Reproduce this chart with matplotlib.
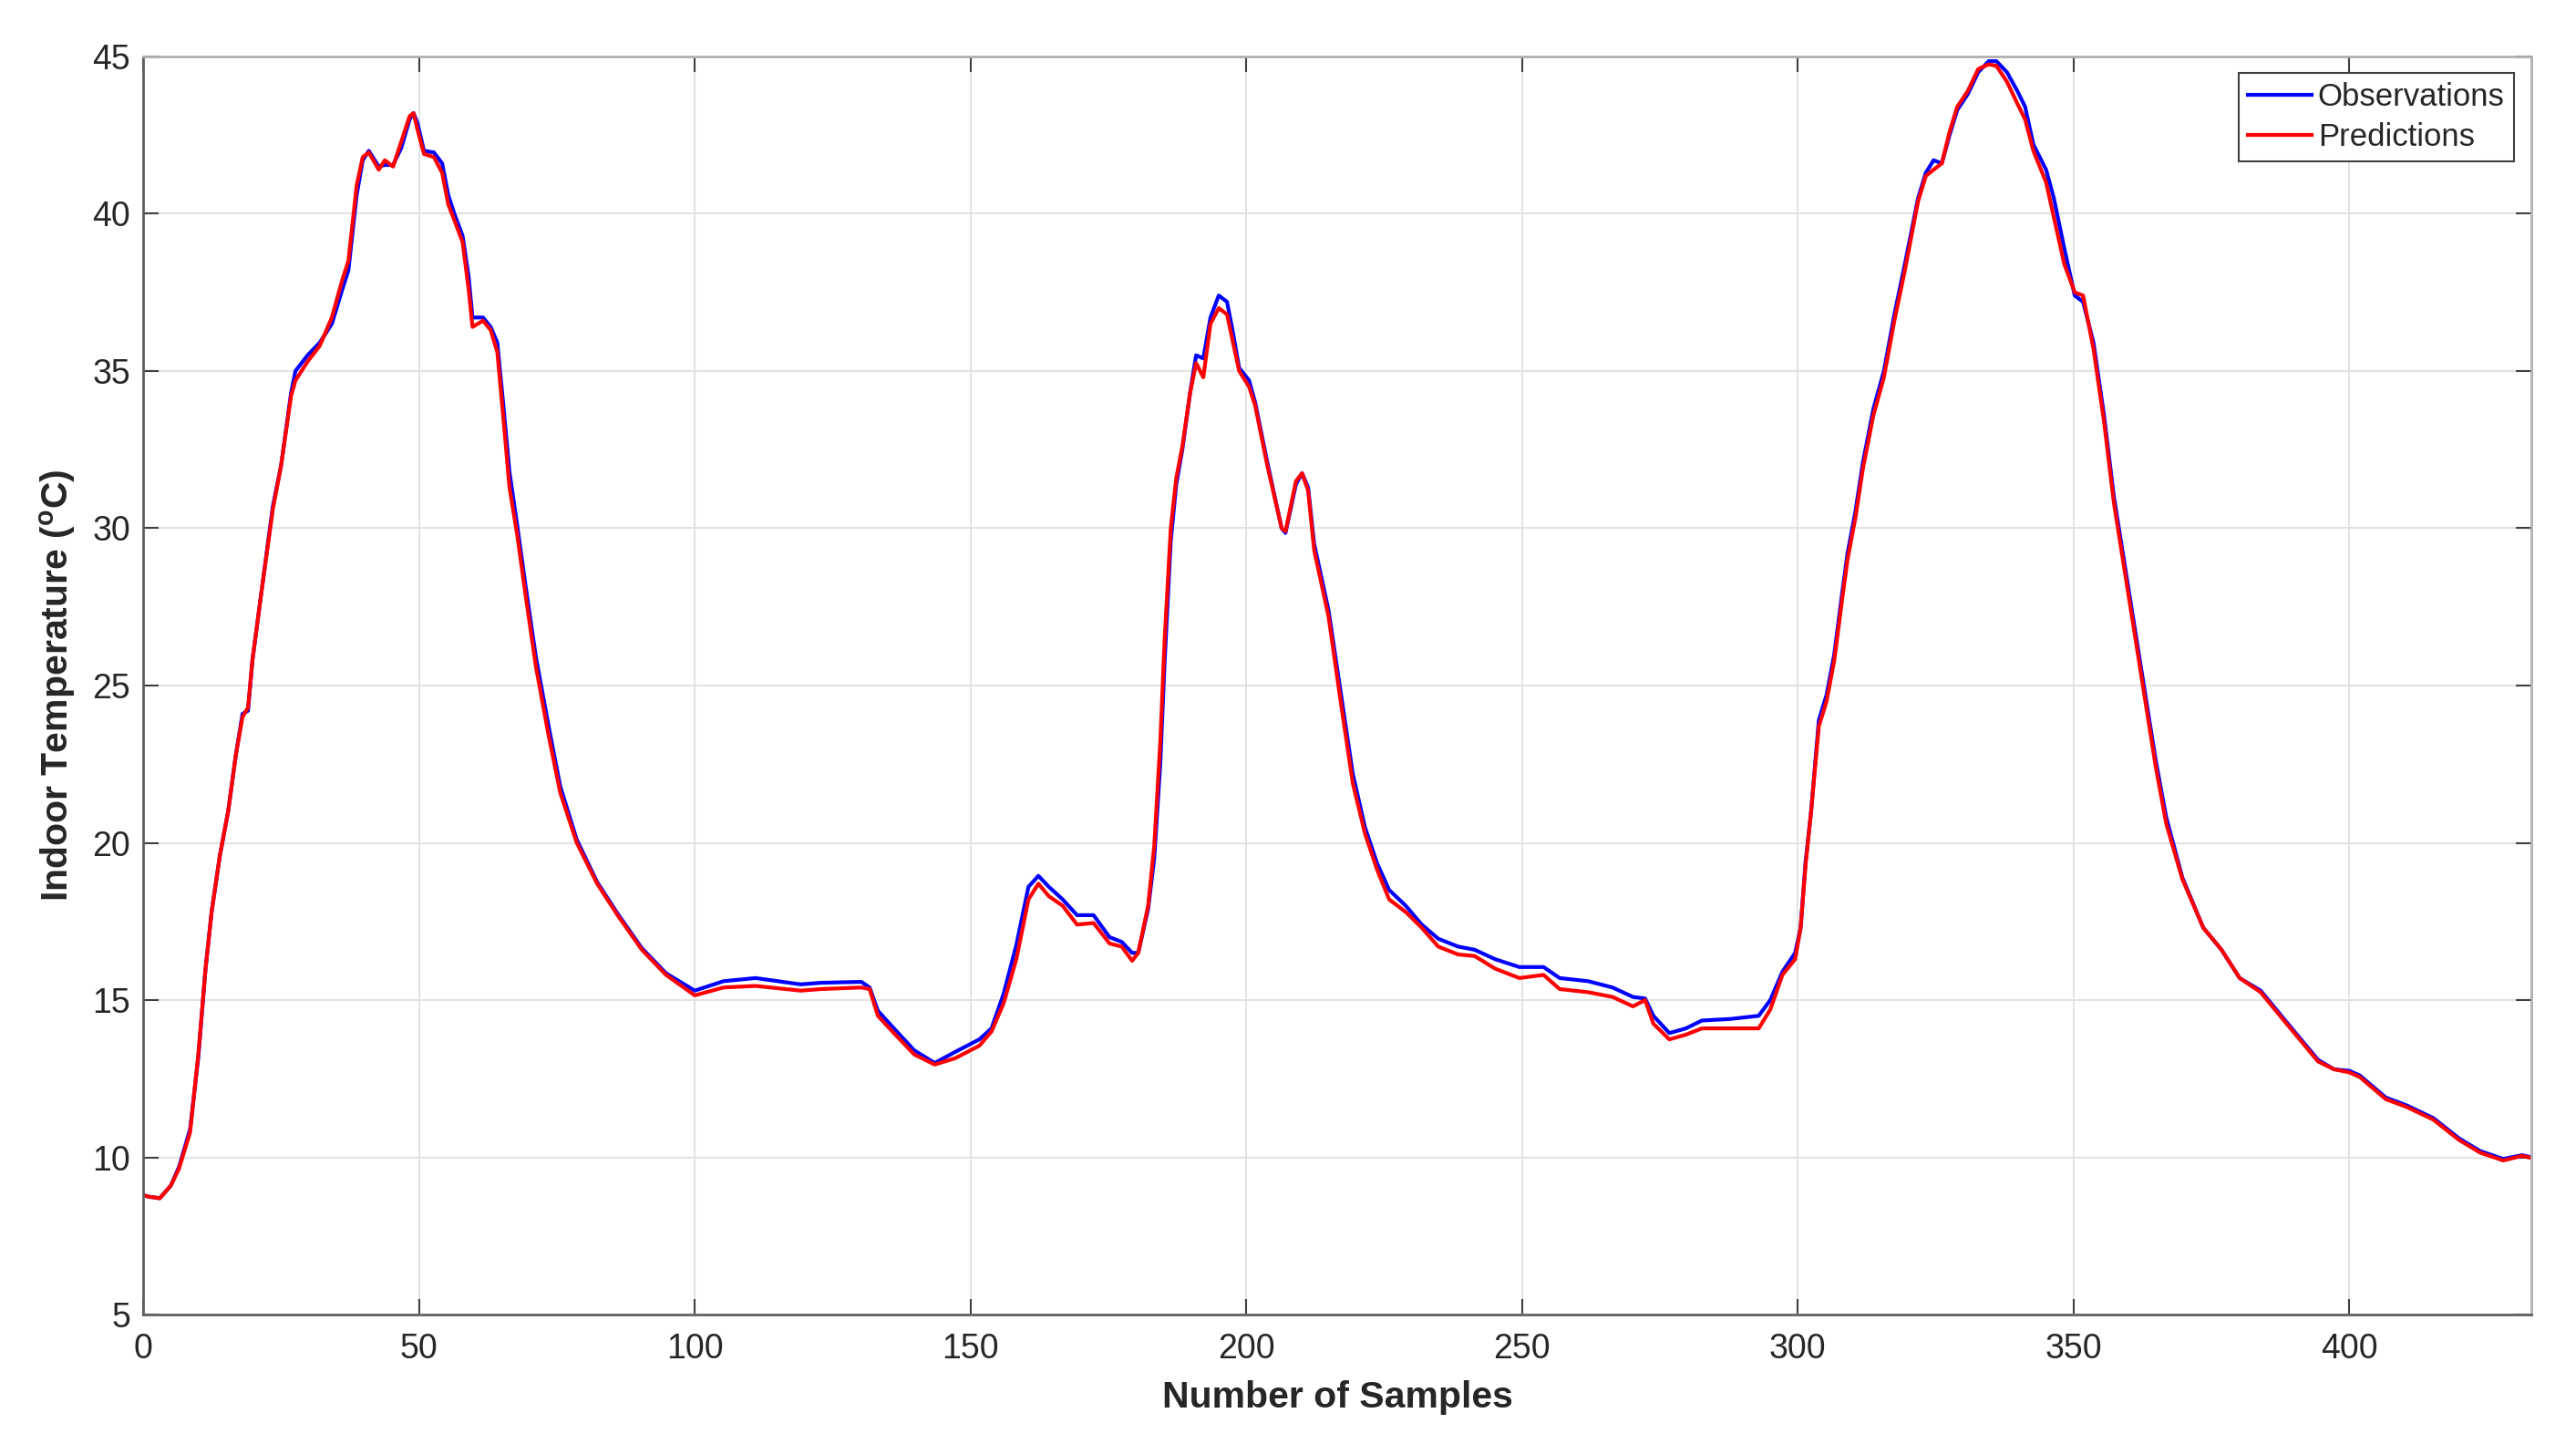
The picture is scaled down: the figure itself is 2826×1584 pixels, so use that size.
import numpy as np
import matplotlib
matplotlib.use("Agg")
from matplotlib import pyplot as plt

plt.rcParams['font.family'] = ['Liberation Sans', 'DejaVu Sans']
plt.rcParams['mathtext.fontset'] = 'custom'
plt.rcParams['mathtext.rm'] = 'Liberation Sans:bold'

# sample index
samples = [0, 1, 3, 5, 6.5, 8.5, 10, 11.3, 12.4, 13.9, 15.4, 16.8, 18, 19, 19.8,
           21.3, 23.5, 25, 26.8, 27.6, 29.8, 32, 34.2, 36.1, 37.2, 38.7, 39.8, 40.9,
           42.7, 43.8, 45.3, 46.8, 48.3, 49, 49.7, 50.9, 52.7, 54.2, 55.3, 56.4, 57.9,
           59, 59.7, 61.6, 63, 64.2, 65.3, 66.4, 67.8, 69.3, 71.2, 73.4, 75.6, 78.6,
           82.3, 86, 90.4, 94.8, 100, 105.2, 111, 119.2, 122.9, 130.2, 131.7, 133.2,
           136.1, 139.8, 143.5, 147.2, 151.6, 153.8, 156, 158.3, 160.5, 162.3, 164.2,
           166.7, 169.3, 172.3, 175.2, 177.4, 179.3, 180.4, 182.2, 183.3, 184.4, 185.2,
           186.3, 187.3, 188.4, 189.8, 190.9, 192.2, 193.5, 195, 196.5, 197.6, 198.7,
           200.5, 201.6, 203.8, 206.4, 207.1, 209, 210.1, 211.2, 212.3, 214.9, 217.1,
           219.3, 221.5, 223.7, 225.9, 228.9, 231.8, 234.8, 238.4, 241.4, 245.1, 249.5,
           253.9, 256.8, 262, 266.4, 270.1, 272.3, 273.8, 276.7, 279.7, 282.6, 287.8,
           292.9, 295, 297.2, 299.5, 300.5, 301.4, 302.4, 303.8, 305.2, 306.6, 308, 309,
           310.4, 311.8, 313.7, 315.6, 317.5, 319.4, 321.8, 323.2, 324.6, 326.1, 327.5,
           328.9, 330.8, 332.7, 334.6, 336, 337.9, 339.8, 341.2, 342.7, 345, 346.4,
           348.3, 350.2, 351.7, 353.6, 355.5, 357.3, 359.2, 361.1, 363, 364.9, 366.8,
           369.7, 373.5, 376.8, 380.1, 383.9, 388.6, 394.3, 397.2, 400, 401.9, 406.6,
           410.4, 415.2, 419.9, 423.7, 427.9, 431.3, 433]

observations = [8.8, 8.75, 8.7, 9.1, 9.7, 10.9, 13.2, 16.0, 17.8, 19.6, 21.0, 22.8, 24.1, 24.2, 25.8,
                27.8, 30.7, 32.0, 34.3, 35.0, 35.5, 35.9, 36.5, 37.6, 38.2, 40.6, 41.7, 42.0,
                41.5, 41.55, 41.55, 42.1, 43.0, 43.2, 42.9, 42.0, 41.95, 41.6, 40.6, 40.0, 39.3,
                38.0, 36.7, 36.7, 36.4, 35.9, 33.9, 31.8, 30.1, 28.2, 25.9, 23.8, 21.8, 20.1,
                18.75, 17.75, 16.65, 15.85, 15.3, 15.6, 15.7, 15.5, 15.55, 15.58, 15.4, 14.66,
                14.1, 13.4, 13.0, 13.35, 13.75, 14.1, 15.2, 16.75, 18.6, 18.95, 18.6,
                18.2, 17.7, 17.7, 17.0, 16.85, 16.5, 16.5, 17.9, 19.5, 22.5, 25.8,
                29.6, 31.4, 32.5, 34.3, 35.5, 35.4, 36.7, 37.4, 37.2, 36.2, 35.1,
                34.7, 34.0, 32.1, 30.0, 29.85, 31.4, 31.75, 31.3, 29.5, 27.4, 24.8,
                22.2, 20.5, 19.35, 18.5, 18.0, 17.4, 16.95, 16.7, 16.6, 16.3, 16.05,
                16.05, 15.7, 15.6, 15.4, 15.1, 15.05, 14.5, 13.95, 14.1, 14.35, 14.4,
                14.5, 15.0, 15.9, 16.5, 17.3, 19.4, 21.0, 23.9, 24.7, 26.0, 27.9, 29.2,
                30.5, 32.1, 33.8, 35.0, 36.8, 38.4, 40.5, 41.3, 41.7, 41.6, 42.5,
                43.3, 43.8, 44.5, 44.85, 44.85, 44.5, 43.9, 43.4, 42.2, 41.4, 40.5,
                38.9, 37.4, 37.2, 35.9, 33.6, 31.0, 28.9, 26.8, 24.7, 22.6, 20.8,
                18.9, 17.3, 16.6, 15.7, 15.3, 14.3, 13.1, 12.8, 12.75, 12.6, 11.9,
                11.65, 11.25, 10.6, 10.2, 9.95, 10.07, 10.0]

predictions = [8.8, 8.75, 8.7, 9.1, 9.65, 10.8, 13.3, 16.0, 17.8, 19.6, 21.0, 22.8, 24.0, 24.3, 25.8,
               27.8, 30.6, 32.0, 34.2, 34.7, 35.3, 35.8, 36.7, 37.9, 38.5, 40.9, 41.8, 41.95,
               41.4, 41.7, 41.5, 42.3, 43.1, 43.2, 42.7, 41.9, 41.8, 41.3, 40.3, 39.8, 39.1,
               37.6, 36.4, 36.6, 36.3, 35.6, 33.5, 31.3, 29.8, 27.9, 25.6, 23.5, 21.6, 20.0,
               18.7, 17.7, 16.6, 15.8, 15.15, 15.4, 15.45, 15.3, 15.35, 15.4, 15.35, 14.5,
               13.95, 13.27, 12.95, 13.15, 13.55, 14.0, 14.9, 16.3, 18.2, 18.7, 18.3,
               18.0, 17.4, 17.45, 16.8, 16.7, 16.25, 16.5, 18.0, 19.9, 23.2, 26.5,
               30.0, 31.6, 32.6, 34.3, 35.25, 34.8, 36.5, 37.0, 36.8, 35.9, 35.0,
               34.5, 33.9, 32.0, 30.0, 29.9, 31.5, 31.75, 31.2, 29.3, 27.2, 24.5,
               21.9, 20.3, 19.15, 18.2, 17.8, 17.3, 16.7, 16.45, 16.4, 16.0, 15.7,
               15.8, 15.35, 15.25, 15.1, 14.8, 15.0, 14.25, 13.75, 13.9, 14.1, 14.1,
               14.1, 14.7, 15.8, 16.3, 17.3, 19.3, 21.0, 23.7, 24.5, 25.8, 27.7, 29.0,
               30.3, 31.9, 33.6, 34.8, 36.6, 38.2, 40.4, 41.2, 41.4, 41.6, 42.6,
               43.4, 43.9, 44.6, 44.75, 44.7, 44.2, 43.5, 43.0, 42.0, 41.0, 39.9,
               38.4, 37.5, 37.4, 35.7, 33.4, 30.8, 28.7, 26.6, 24.5, 22.4, 20.6,
               18.85, 17.3, 16.6, 15.7, 15.25, 14.25, 13.05, 12.8, 12.7, 12.55, 11.85,
               11.6, 11.2, 10.55, 10.15, 9.9, 10.05, 9.98]

x_ticks = [0, 50, 100, 150, 200, 250, 300, 350, 400]
y_ticks = [5, 10, 15, 20, 25, 30, 35, 40, 45]

fig = plt.figure(figsize=(28.26, 15.84), dpi=100)
ax = fig.add_axes([0.0556, 0.0896, 0.9271, 0.8713])

ax.plot(samples, observations, color=(0, 0, 1), lw=3, label='Observations')
ax.plot(samples, predictions, color=(1, 0, 0), lw=3, label='Predictions')

ax.set_xlim(0, 433)
ax.set_ylim(5, 45)
ax.set_xticks(x_ticks)
ax.set_yticks(y_ticks)
ax.grid(True, color='#e3e3e3', lw=1.5)
ax.set_axisbelow(True)

ax.tick_params(direction='in', length=12, width=1.5, colors='#404040',
               labelsize=27, top=True, right=True)
ax.tick_params(axis='x', pad=14, labelcolor='#262626')
ax.tick_params(axis='y', pad=10, labelcolor='#262626')
for s in ['left', 'bottom']:
    ax.spines[s].set_color('#606060')
    ax.spines[s].set_linewidth(2)
for s in ['top', 'right']:
    ax.spines[s].set_color('#b0b0b0')
    ax.spines[s].set_linewidth(2)

ax.set_xlabel('Number of Samples', fontsize=29.5, fontweight='bold', color='#262626', labelpad=12)
ax.set_ylabel('Indoor Temperature ($^{\\mathrm{o}}$C)', fontsize=29.5, fontweight='bold',
              color='#262626', labelpad=12)

leg = ax.legend(loc='upper right', bbox_to_anchor=(0.9927, 0.987), borderaxespad=0,
                fontsize=25, handlelength=2.0, handletextpad=0.2, labelspacing=0.3,
                borderpad=0.3, fancybox=False, framealpha=1)
leg.get_frame().set_edgecolor('#404040')
leg.get_frame().set_linewidth(1.5)
for t in leg.get_texts():
    t.set_color('#262626')

fig.savefig('out.png', dpi=100, facecolor='white')
